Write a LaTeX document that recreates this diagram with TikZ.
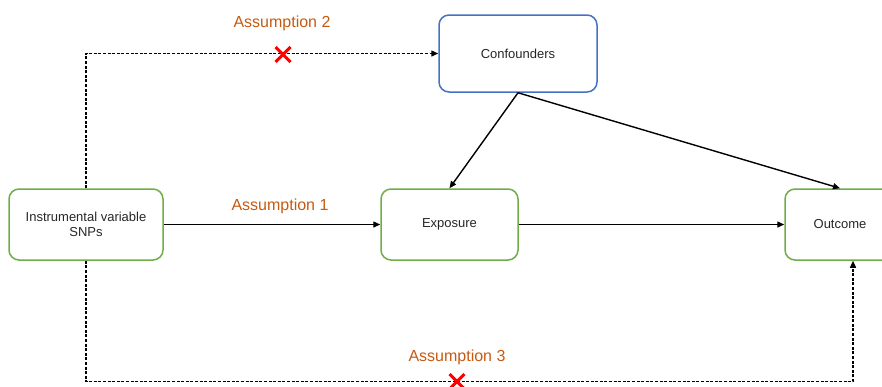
\documentclass[tikz,border=0pt]{standalone}
\usepackage{fontspec}
\setmainfont{Liberation Sans}
\usetikzlibrary{arrows.meta, shapes.misc}
\definecolor{boxGreen}{RGB}{112,173,71}
\definecolor{boxBlue}{RGB}{68,114,196}
\definecolor{labelOrange}{RGB}{197,90,17}
\newcommand\boxH{71pt}
\newcommand\lowDrop{121}
\newcommand\tipStyle{Triangle[length=7pt,width=6pt]}

\begin{document}
\begin{tikzpicture}[x=1pt, y=-1pt,
        every node/.style={font=\fontsize{13}{15.5}\selectfont, text=black!85},
        varbox/.style={draw=boxGreen, line width=1.5pt, rounded corners=10pt,
            minimum height=\boxH, align=center},
        confbox/.style={varbox, draw=boxBlue, minimum height=77pt},
        flow/.style={draw=black, line width=1.4pt, -{\tipStyle}},
        assume/.style={flow, dash pattern=on 3pt off 1.6pt},
        asslabel/.style={font=\fontsize{16}{19}\selectfont, text=labelOrange},
        crossmark/.style={cross out, draw=red, line width=3pt, minimum size=12pt, inner sep=0pt}]
    \useasboundingbox (0,0) rectangle (882,386);

    % boxes
    \node[varbox, minimum width=154pt] (iv) at (86,224.5) {Instrumental variable\\SNPs};
    \node[varbox, minimum width=137pt] (exposure) at (449.5,224.5) {Exposure};
    \node[varbox, minimum width=110pt] (outcome) at (840,224.5) {Outcome};
    \node[confbox, minimum width=158pt] (conf) at (518,53.5) {Confounders};

    % causal arrows
    \draw[flow] (iv) -- (exposure);
    \draw[flow] (exposure) -- (outcome);
    \draw[flow] (conf.south) -- (exposure.north);
    \draw[flow] (conf.south) -- (outcome.north);

    % violated paths
    \draw[assume] (iv.north) |- (conf.west);
    \draw[assume] (iv.south) -- ++(0,\lowDrop) -| ([xshift=13pt]outcome.south);

    \node[crossmark] (cross2) at (283,54.5) {};
    \node[crossmark] (cross3) at (457,381.5) {};

    % labels
    \node[asslabel] (ass1) at (280,206.5) {Assumption 1};
    \node[asslabel] (ass2) at (282,23) {Assumption 2};
    \node[asslabel] (ass3) at (457,357.5) {Assumption 3};
\end{tikzpicture}
\end{document}
